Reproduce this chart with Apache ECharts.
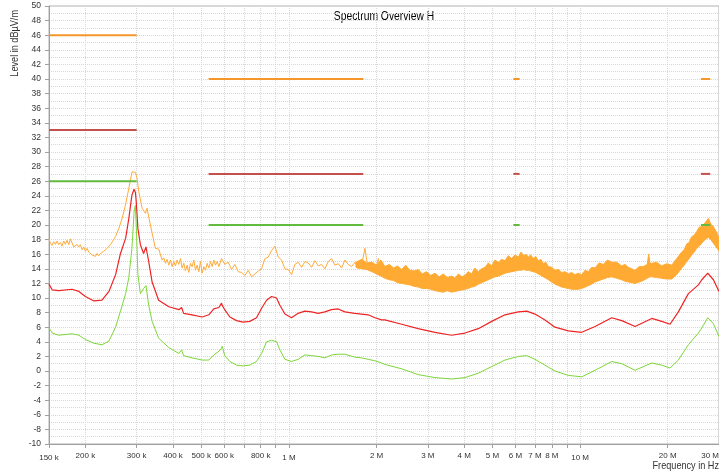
<!DOCTYPE html>
<html>
<head>
<meta charset="utf-8">
<script src="https://cdn.jsdelivr.net/npm/echarts@6/dist/echarts.min.js"></script>
<style>
  html, body { margin: 0; padding: 0; background: #fff; }
  #chart { width: 719px; height: 476px; }
</style>
</head>
<body>
<div id="chart"></div>
<script>
// frequencies in kHz, levels in dBµV/m
const traceFreq = [150, 154, 162, 180, 190, 200, 214, 228, 241, 254, 264, 275, 282, 289, 294, 297, 299, 303, 309, 317, 323, 330, 339, 357, 387, 419, 428, 435, 465, 504, 531, 552, 575, 587, 590, 602, 627, 661, 696, 734, 774, 806, 838, 872, 907, 931, 969, 1021, 1076, 1134, 1196, 1260, 1329, 1401, 1476, 1557, 1685, 1776, 1872, 1974, 2082, 2136, 2439, 2781, 3174, 3621, 4023, 4472, 4971, 5521, 6135, 6557, 7002, 7575, 8200, 9111, 10130, 11260, 12845, 13905, 15445, 17630, 19080, 20370, 21750, 23550, 25490, 26190, 27450, 28700, 30000];
const redLevel = [11.9, 11.1, 11.0, 11.2, 10.9, 10.2, 9.6, 9.7, 10.9, 13.2, 16.1, 18.2, 20.9, 24.1, 24.9, 24.5, 23.2, 19.5, 17.3, 16.1, 17.0, 15.0, 12.2, 9.7, 8.8, 8.4, 8.7, 7.9, 7.7, 7.4, 7.7, 8.5, 8.7, 9.3, 9.0, 8.4, 7.4, 6.9, 6.7, 6.8, 7.3, 8.6, 9.7, 10.2, 10.0, 9.0, 7.8, 7.3, 7.9, 8.2, 8.1, 7.9, 8.1, 8.4, 8.5, 8.1, 7.9, 7.8, 7.7, 7.3, 7.0, 7.0, 6.4, 5.8, 5.3, 4.9, 5.2, 5.8, 6.8, 7.7, 8.1, 8.2, 7.8, 7.0, 6.0, 5.5, 5.3, 6.1, 7.3, 6.9, 6.1, 7.2, 6.8, 6.4, 8.1, 10.6, 11.8, 12.5, 13.4, 12.5, 10.9];
const greenLevel = [5.9, 5.2, 4.9, 5.1, 4.9, 4.3, 3.8, 3.6, 4.1, 6.0, 8.2, 10.6, 12.8, 16.8, 21.8, 22.7, 20.0, 13.2, 10.6, 11.3, 11.7, 9.0, 6.8, 4.5, 3.2, 2.4, 2.9, 2.1, 1.8, 1.5, 1.5, 2.2, 2.7, 3.1, 3.4, 2.1, 1.3, 0.8, 0.7, 0.8, 1.3, 2.4, 4.0, 4.2, 4.0, 2.9, 1.6, 1.3, 1.6, 2.2, 2.1, 2.0, 1.8, 2.2, 2.3, 2.3, 1.9, 1.8, 1.6, 1.4, 1.1, 0.9, 0.3, -0.5, -0.9, -1.1, -0.9, -0.3, 0.6, 1.5, 2.0, 2.1, 1.6, 0.8, 0.0, -0.6, -0.8, 0.1, 1.3, 1.0, 0.1, 1.1, 0.8, 0.4, 1.5, 3.6, 5.2, 5.9, 7.3, 6.5, 4.7];

// peak trace below 2.2 MHz
const orangeFreq = [150, 151.7, 153.6, 155.7, 157.8, 159.9, 162.0, 164.1, 166.3, 168.5, 170.7, 173.0, 175.3, 177.6, 180.0, 182.4, 184.8, 187.3, 189.8, 192.3, 194.8, 197.4, 200.0, 202.7, 205.4, 208.1, 210.9, 213.7, 216.5, 219.4, 222.3, 225.2, 228.2, 231.2, 234.3, 237.4, 240.6, 243.8, 247.0, 253.7, 260.4, 267.4, 274.5, 281.9, 289.4, 293.3, 297.2, 301.0, 305.0, 313.2, 321.5, 325.8, 330.1, 339.0, 348.0, 357.3, 366.9, 371.8, 376.7, 381.7, 386.8, 391.9, 397.1, 402.3, 407.7, 413.1, 418.6, 424.1, 429.8, 435.5, 441.3, 447.2, 453.1, 459.1, 465.2, 471.4, 477.7, 484.0, 490.4, 497.0, 503.5, 510.2, 517.0, 523.9, 530.8, 537.9, 545.0, 552.3, 559.6, 567.1, 574.5, 587.1, 602.8, 618.9, 635.4, 652.4, 669.8, 687.7, 706.1, 725.0, 744.4, 764.2, 784.7, 805.6, 827.2, 849.2, 871.9, 895.2, 919.2, 943.7, 968.9, 994.8, 1021.4, 1048.7, 1076.7, 1105.5, 1135.0, 1165.4, 1196.5, 1228.5, 1261.3, 1295.0, 1329.6, 1365.1, 1401.6, 1439.1, 1477.5, 1517.0, 1557.5, 1599.1, 1641.9, 1685.8, 1730.8, 1777.1, 1824.5, 1873.3, 1923.4, 1974.8, 2027.5, 2081.7, 2137.3];
const orangeLevel = [18.1, 17.5, 17.2, 17.7, 17.35, 17.8, 17.3, 17.6, 17.1, 17.8, 17.35, 17.9, 17.3, 18.1, 17.9, 17.0, 16.9, 17.35, 17.0, 17.3, 16.6, 17.0, 16.4, 16.8, 16.3, 16.4, 15.9, 16.1, 15.7, 16.1, 15.8, 16.1, 16.0, 16.4, 16.3, 16.8, 16.6, 17.3, 17.5, 18.4, 19.5, 20.9, 22.7, 25.0, 27.3, 27.5, 27.2, 26.4, 24.6, 22.3, 21.6, 22.3, 21.1, 18.9, 16.8, 16.7, 15.2, 15.5, 14.75, 15.3, 14.5, 15.2, 14.3, 15.0, 14.4, 15.2, 14.6, 15.4, 14.1, 14.75, 13.7, 14.5, 13.5, 14.75, 14.3, 15.2, 13.8, 14.5, 13.6, 15.0, 13.4, 14.3, 13.8, 14.75, 14.1, 15.0, 14.3, 15.2, 14.5, 15.0, 14.3, 15.4, 14.6, 14.9, 13.9, 14.6, 13.6, 13.5, 13.1, 13.8, 12.9, 13.3, 13.7, 14.0, 15.4, 15.6, 16.5, 17.1, 15.6, 15.2, 14.0, 13.9, 13.2, 14.6, 14.9, 14.2, 15.0, 14.8, 14.2, 15.1, 14.4, 14.6, 14.0, 15.0, 15.4, 14.5, 14.7, 14.1, 15.2, 14.6, 14.3, 14.9, 14.0, 14.5, 16.8, 13.8, 14.2, 13.5, 15.4, 13.3, 13.9];

// peak trace above 1.7 MHz: noise envelope (low / high edge)
const bandFreq = [1700, 1780, 1850, 1930, 2000, 2070, 2137, 2210, 2290, 2360, 2438, 2520, 2600, 2690, 2782, 2870, 2970, 3070, 3174, 3280, 3390, 3500, 3621, 3720, 3820, 3920, 4024, 4130, 4240, 4350, 4472, 4590, 4720, 4840, 4969, 5100, 5240, 5380, 5522, 5670, 5820, 5980, 6136, 6270, 6400, 6520, 6642, 6770, 6900, 7040, 7189, 7330, 7480, 7630, 7780, 7990, 8202, 8420, 8650, 8880, 9114, 9350, 9600, 9860, 10128, 10400, 10680, 10960, 11254, 11630, 12020, 12420, 12841, 13360, 13898, 14260, 14650, 15040, 15443, 15960, 16500, 17000, 17200, 17400, 17620, 18300, 19071, 19850, 20641, 21470, 22340, 22780, 23240, 23700, 24179, 24660, 25150, 25650, 26170, 26870, 27587, 28130, 28688, 29340, 30000];
const bandLow = [14.2, 14.0, 13.9, 13.6, 13.3, 13.0, 12.7, 12.5, 12.4, 12.1, 12.0, 11.9, 11.8, 11.6, 11.5, 11.3, 11.3, 11.2, 11.0, 10.9, 10.8, 11.0, 10.8, 10.9, 11.0, 11.1, 11.2, 11.3, 11.5, 11.6, 11.9, 12.1, 12.3, 12.5, 12.7, 12.9, 13.0, 13.2, 13.4, 13.5, 13.6, 13.7, 13.8, 13.8, 13.9, 13.8, 13.8, 13.7, 13.6, 13.5, 13.3, 13.1, 12.9, 12.7, 12.5, 12.2, 11.9, 11.7, 11.5, 11.4, 11.3, 11.2, 11.2, 11.2, 11.3, 11.5, 11.7, 11.9, 12.2, 12.4, 12.6, 12.8, 12.9, 12.7, 12.5, 12.3, 12.2, 12.1, 12.0, 12.2, 12.4, 12.7, 12.8, 12.9, 12.9, 12.8, 12.7, 12.6, 12.6, 13.2, 14.1, 14.5, 15.0, 15.4, 15.9, 16.3, 16.8, 17.1, 17.5, 18.0, 18.3, 18.0, 17.5, 17.0, 16.4];
const bandHigh = [14.9, 15.3, 14.8, 14.9, 14.5, 15.2, 14.3, 14.6, 14.1, 14.4, 13.9, 14.5, 13.8, 13.7, 13.9, 13.3, 13.6, 13.1, 13.4, 12.9, 13.3, 12.8, 13.0, 12.7, 13.3, 12.9, 13.1, 13.6, 13.3, 14.1, 13.6, 14.0, 14.2, 14.8, 14.4, 15.2, 14.9, 15.3, 15.1, 15.8, 15.4, 15.9, 15.6, 16.3, 15.8, 16.0, 15.6, 15.9, 15.4, 15.7, 15.1, 15.3, 14.7, 14.9, 14.3, 14.2, 13.8, 13.9, 13.5, 13.6, 13.3, 13.5, 13.2, 13.4, 13.2, 13.8, 13.6, 14.2, 14.1, 14.8, 14.6, 15.2, 14.9, 14.9, 14.4, 14.6, 14.2, 14.0, 13.8, 14.3, 14.3, 14.6, 16.0, 14.7, 14.75, 14.9, 14.4, 14.7, 14.5, 15.4, 16.3, 16.6, 17.4, 17.6, 18.4, 18.6, 19.1, 19.7, 19.8, 20.3, 20.9, 20.1, 19.8, 19.1, 18.2];

// limit bands in kHz
const limitBands = [[150, 300], [530, 1800], [5900, 6200], [26000, 28000]];
const peakLimit = [46, 40, 40, 40];
const qpLimit = [33, 27, 27, 27];
const avgLimit = [26, 20, 20, 20];

const gridFreq = [150, 200, 300, 400, 500, 600, 700, 800, 900, 1000, 2000, 3000, 4000, 5000, 6000, 7000, 8000, 9000, 10000, 20000, 30000];
const tickFreq = [150, 200, 300, 400, 500, 600, 800, 1000, 2000, 3000, 4000, 5000, 6000, 7000, 8000, 10000, 20000, 30000];
const tickText = ["150 k", "200 k", "300 k", "400 k", "500 k", "600 k", "800 k", "1 M", "2 M", "3 M", "4 M", "5 M", "6 M", "7 M", "8 M", "10 M", "20 M", "30 M"];

const font = '"Liberation Sans", Arial, sans-serif';
const toX = (f) => Math.log10(f * 1000);

function labelFor(v) {
  for (let i = 0; i < tickFreq.length; i++) {
    if (Math.abs(toX(tickFreq[i]) - v) < 1e-6) {
      const t = tickText[i];
      // decade labels sit a little lower
      return t === "150 k" || t === "1 M" || t === "10 M" ? "{d|" + t + "}" : t;
    }
  }
  return "";
}

const chart = echarts.init(document.getElementById("chart"));

let series = [];
series.push({
  type: "custom",
  silent: true,
  clip: true,
  encode: { x: 0, y: [1, 2] },
  data: bandFreq.map((f, i) => [toX(f), bandLow[i], bandHigh[i]]),
  renderItem: function (params, api) {
    if (params.dataIndex !== 0) return;
    const top = bandFreq.map((f, i) => api.coord([toX(f), bandHigh[i]]));
    const bottom = bandFreq.map((f, i) => api.coord([toX(f), bandLow[i]])).reverse();
    return {
      type: "polygon",
      shape: { points: top.concat(bottom) },
      style: { fill: "#ffaa33", stroke: "#ffaa33", lineWidth: 1 },
    };
  },
  z: 1,
});
series.push({
  type: "line",
  symbol: "none",
  lineStyle: { width: 1, color: "#ffaa38" },
  data: orangeFreq.map((f, i) => [toX(f), orangeLevel[i]]),
  z: 2,
});
series.push({
  type: "line",
  symbol: "none",
  lineStyle: { width: 1.2, color: "#ee2424" },
  data: traceFreq.map((f, i) => [toX(f), redLevel[i]]),
  z: 3,
});
series.push({
  type: "line",
  symbol: "none",
  lineStyle: { width: 1, color: "#7cd63a" },
  data: traceFreq.map((f, i) => [toX(f), greenLevel[i]]),
  z: 4,
});

const limits = [
  [peakLimit, "#f5962a"],
  [qpLimit, "#c4504c"],
  [avgLimit, "#62bb3e"],
];
limits.forEach((item) => {
  limitBands.forEach((b, i) => {
    series.push({
      type: "line",
      symbol: "none",
      lineStyle: { width: 2, color: item[1] },
      data: [[toX(b[0]), item[0][i]], [toX(b[1]), item[0][i]]],
      z: 5,
    });
  });
});

const option = {
  animation: false,
  backgroundColor: "#fff",
  graphic: [
    {
      type: "text",
      x: 384,
      y: 17,
      scaleX: 0.86,
      style: { text: "Spectrum Overview H", align: "center", verticalAlign: "middle", font: "12px " + font, fill: "#000" },
    },
    {
      type: "text",
      x: 15,
      y: 10,
      rotation: Math.PI / 2,
      scaleX: 0.83,
      style: { text: "Level in dBµV/m", align: "right", verticalAlign: "middle", font: "11px " + font, fill: "#333" },
    },
    {
      type: "text",
      x: 719,
      y: 466,
      scaleX: 0.83,
      style: { text: "Frequency in Hz", align: "right", verticalAlign: "middle", font: "11px " + font, fill: "#333" },
    },
  ],
  grid: {
    left: 49,
    right: 0,
    top: 6,
    bottom: 32,
    show: true,
    borderColor: "#b0b0b0",
    borderWidth: 1,
    outerBoundsMode: "none",
  },
  xAxis: {
    type: "value",
    min: toX(150),
    max: toX(30000),
    axisLine: { onZero: false, lineStyle: { color: "#a0a0a0" } },
    axisTick: { customValues: gridFreq.map(toX), length: 4, lineStyle: { color: "#a0a0a0" } },
    axisLabel: {
      customValues: tickFreq.map(toX),
      formatter: labelFor,
      alignMaxLabel: "right",
      margin: 8,
      fontFamily: font,
      fontSize: 8,
      color: "#333",
      rich: { d: { fontFamily: font, fontSize: 8, color: "#333", padding: [2, 0, 0, 0] } },
    },
    splitLine: { show: true, lineStyle: { color: "#d8d8d8", type: "dotted" } },
  },
  yAxis: {
    type: "value",
    min: -10,
    max: 50,
    interval: 2,
    axisLine: { show: true, onZero: false, lineStyle: { color: "#a0a0a0" } },
    axisTick: { show: true, length: 4, lineStyle: { color: "#a0a0a0" } },
    axisLabel: { fontFamily: font, fontSize: 8.5, color: "#333", margin: 8 },
    splitLine: { show: true, lineStyle: { color: "#d8d8d8", type: "dotted" } },
    minorTick: { show: false, splitNumber: 2 },
    minorSplitLine: { show: true, lineStyle: { color: "#d8d8d8", type: "dotted" } },
  },
  series: series,
};

chart.setOption(option);
</script>
</body>
</html>
